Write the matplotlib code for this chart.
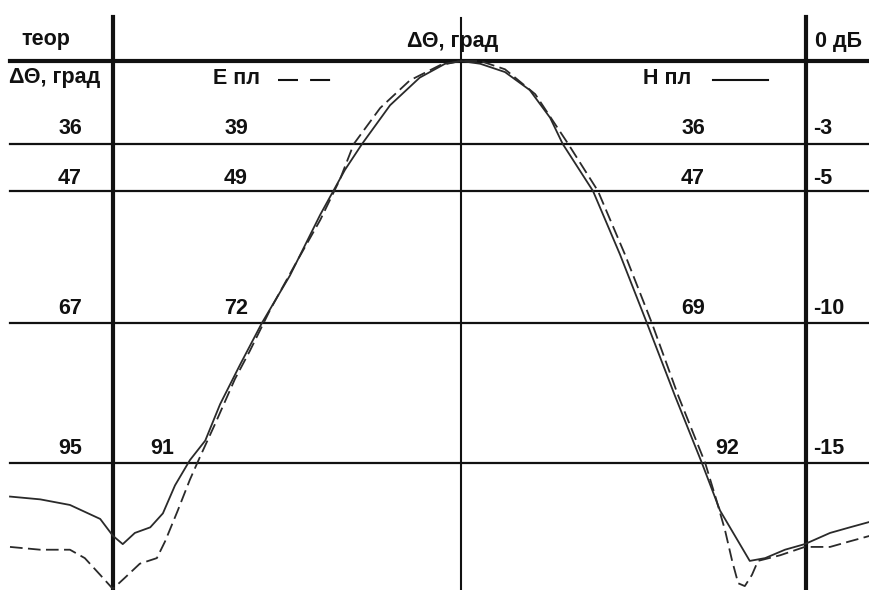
import numpy as np
import matplotlib.pyplot as plt

plt.rcParams['font.family'] = ['Liberation Sans', 'DejaVu Sans']

# dB levels of the horizontal grid rows and their labels
levels_db = [-3, -5, -10, -15]
level_labels = ['-3', '-5', '-10', '-15']
theor_width = ['36', '47', '67', '95']     # теор ΔΘ, град
e_width = ['39', '49', '72', '91']          # Е пл
h_width = ['36', '47', '69', '92']          # Н пл

# H-plane pattern (solid), angle in degrees, level in dB
h_angle = [-82.0, -76.5, -71.1, -65.6, -63.3, -61.5, -59.3, -56.5, -54.2, -52.0,
           -49.3, -46.5, -43.8, -40.2, -36.2, -31.1, -25.6, -21.1, -18.0, -12.9,
           -7.5, -2.9, 0.0, 3.5, 8.0, 12.5, 16.2, 18.5, 24.0, 28.9,
           33.8, 38.9, 43.8, 47.1, 50.7, 52.5, 55.3, 58.9, 62.5, 67.1,
           70.7, 74.4]
h_level = [-16.2, -16.3, -16.5, -17.0, -17.6, -17.9, -17.5, -17.3, -16.8, -15.8,
           -14.9, -14.2, -12.9, -11.5, -10.0, -8.2, -5.9, -4.1, -3.0, -1.6,
           -0.6, -0.1, 0.0, -0.1, -0.4, -1.05, -2.05, -3.0, -5.0, -7.4,
           -10.0, -12.6, -15.0, -16.7, -17.9, -18.5, -18.4, -18.1, -17.9, -17.5,
           -17.3, -17.1]

# E-plane pattern (dashed)
e_angle = [-82.0, -76.5, -71.1, -68.4, -65.6, -63.3, -61.1, -58.4, -55.3, -53.8,
           -51.5, -49.3, -47.5, -44.7, -41.1, -38.4, -34.7, -30.2, -25.6, -22.0,
           -19.5, -14.7, -9.3, -3.8, 0.0, 3.5, 8.0, 13.5, 19.5, 24.9,
           29.8, 34.7, 39.5, 44.4, 46.4, 48.0, 49.3, 50.4, 51.6, 52.9,
           54.0, 58.0, 62.5, 67.1, 70.7, 74.4]
e_level = [-18.0, -18.1, -18.1, -18.4, -19.0, -19.5, -19.1, -18.6, -18.4, -17.8,
           -16.7, -15.6, -14.8, -13.6, -12.0, -11.0, -9.5, -7.8, -6.1, -4.5,
           -3.0, -1.7, -0.7, -0.15, 0.0, 0.0, -0.3, -1.2, -3.0, -5.0,
           -7.4, -10.0, -12.6, -15.0, -16.3, -17.4, -18.5, -19.3, -19.4, -19.0,
           -18.5, -18.3, -18.0, -18.0, -17.8, -17.6]

# the scanned dB scale is not quite linear: map dB to vertical position
scale_db = [-19.54, -15, -10, -5, -3, 0, 2.2]
scale_pos = [-590, -463, -323, -191, -144, -61, 0]


def fwd(v):
    return np.interp(v, scale_db, scale_pos)


def inv(v):
    return np.interp(v, scale_pos, scale_db)


W, H = 870, 590
fig = plt.figure(figsize=(W / 100, H / 100), dpi=100)
ax = fig.add_axes([0, 0, 1, 1])
ax.set_yscale('function', functions=(fwd, inv))
ax.set_xlim(-461 / 5.5, 409 / 5.5)
ax.set_ylim(-19.54, 2.2)
ax.axis('off')

ink = '#111111'


def px(x, y):
    return x / W, 1 - y / H


# table frame
ax.plot([10 / W, 1], [1 - 61 / H] * 2, transform=ax.transAxes, color=ink, lw=3)
for xp in (113, 806):
    ax.plot([xp / W] * 2, [0, 1 - 17 / H], transform=ax.transAxes, color=ink, lw=3)
ax.plot([0.5299] * 2, [0, 1 - 18 / H], transform=ax.transAxes, color=ink, lw=1.5)
for lv in levels_db:
    ax.axhline(lv, xmin=10 / W, xmax=1, color=ink, lw=1.6)

# curves
ax.plot(h_angle, h_level, color='#2a2a2a', lw=1.3)
ax.plot(e_angle, e_level, color='#2a2a2a', lw=1.3, dashes=(7, 3))

fs = 15.5
kw = dict(transform=ax.transAxes, fontsize=fs, fontweight='bold', color=ink,
          va='center')
ax.text(*px(46, 40), 'теор', ha='center', **kw)
ax.text(*px(453, 42), 'ΔΘ, град', ha='center', **kw)
ax.text(*px(815, 42), '0 дБ', ha='left', **kw)
ax.text(*px(9, 78), 'ΔΘ, град', ha='left', **kw)
ax.text(*px(213, 78), 'Е пл', ha='left', **kw)
ax.plot([278 / W, 333 / W], [1 - 80 / H] * 2, transform=ax.transAxes,
        color=ink, lw=1.5, dashes=(9.6, 5.8))
ax.text(*px(643, 78), 'Н пл', ha='left', **kw)
ax.plot([713 / W, 768 / W], [1 - 80 / H] * 2, transform=ax.transAxes,
        color=ink, lw=1.5)

row_y = [128, 178, 308, 448]
e_x = [236, 236, 236, 162]
h_x = [693, 693, 693, 727]
for i in range(len(levels_db)):
    ax.text(*px(70, row_y[i]), theor_width[i], ha='center', **kw)
    ax.text(*px(e_x[i], row_y[i]), e_width[i], ha='center', **kw)
    ax.text(*px(h_x[i], row_y[i]), h_width[i], ha='center', **kw)
    ax.text(*px(813, row_y[i]), level_labels[i], ha='left', **kw)

fig.savefig('out.png', dpi=100)
